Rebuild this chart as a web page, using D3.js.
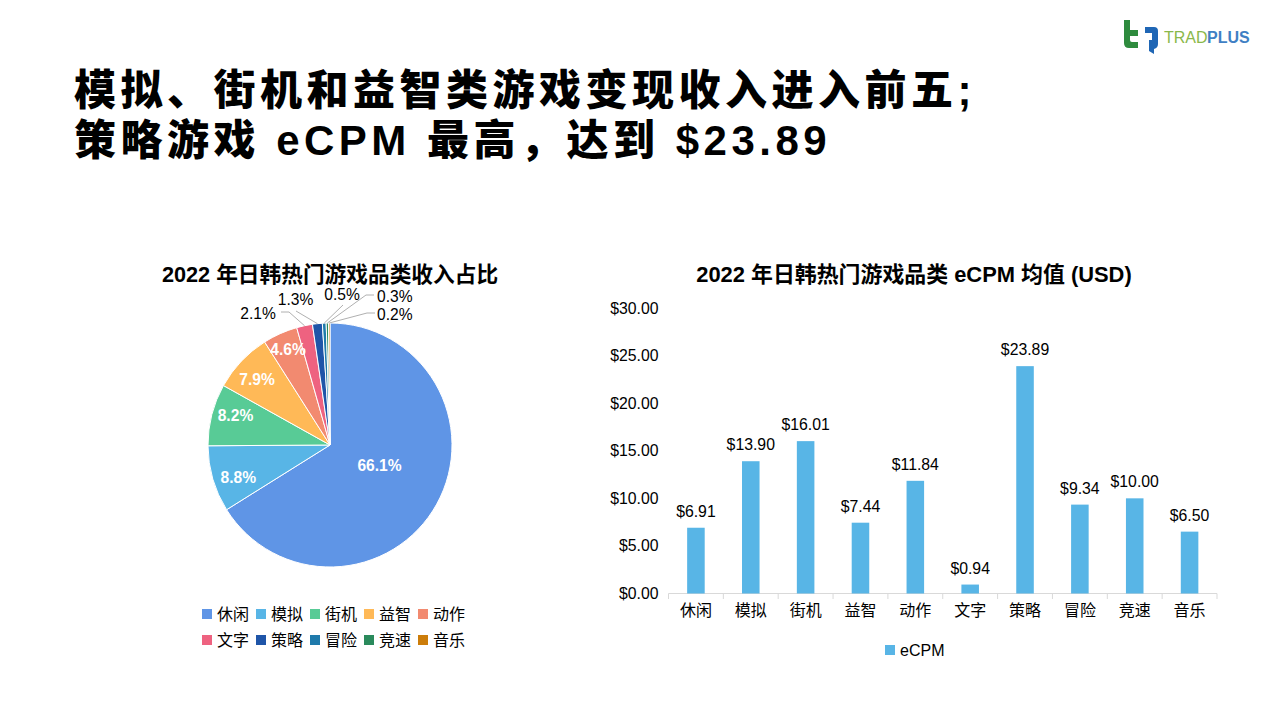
<!DOCTYPE html>
<html>
<head>
<meta charset="utf-8">
<script src="https://cdn.jsdelivr.net/npm/d3@7"></script>
<style>
  html, body { margin: 0; padding: 0; background: #fff; }
  text { font-family: "Liberation Sans", "Noto Sans CJK SC", sans-serif; fill: #000; }
</style>
</head>
<body>
<svg id="chart" width="1280" height="720"></svg>
<script>
const titleLines = ["模拟、街机和益智类游戏变现收入进入前五;", "策略游戏 eCPM 最高，达到 $23.89"];
const pieTitle = "2022 年日韩热门游戏品类收入占比";
const barTitle = "2022 年日韩热门游戏品类 eCPM 均值 (USD)";

const pieCategories = ["休闲", "模拟", "街机", "益智", "动作", "文字", "策略", "冒险", "竞速", "音乐"];
const pieShares = [66.1, 8.8, 8.2, 7.9, 4.6, 2.1, 1.3, 0.5, 0.3, 0.2];
const pieColors = ["#5f95e6", "#58b5e6", "#58cb96", "#ffb957", "#f28a70", "#ee6280", "#1f55a8", "#1f7aab", "#2a8a5c", "#cc7d0a"];

const barCategories = ["休闲", "模拟", "街机", "益智", "动作", "文字", "策略", "冒险", "竞速", "音乐"];
const ecpmValues = [6.91, 13.90, 16.01, 7.44, 11.84, 0.94, 23.89, 9.34, 10.00, 6.50];
const yTicks = [0, 5, 10, 15, 20, 25, 30];

const svg = d3.select("#chart");
const money = d3.format("$.2f");

// slide title
svg.append("g").selectAll("text").data(titleLines).enter().append("text")
  .attr("x", 74)
  .attr("y", (d, i) => 105 + i * 50)
  .attr("font-size", 42)
  .attr("font-weight", 900)
  .attr("letter-spacing", 4.5)
  .text(d => d);

// logo, top right
const logo = svg.append("g").attr("transform", "translate(1123,20)");
logo.append("path").attr("fill", "#2e8b3e")
  .attr("d", "M1 0h6v10h8v6h-8v4q0 2 2 2h6v6h-9q-5 0-5-5z");
logo.append("path").attr("fill", "#1f66b5")
  .attr("d", "M22 7h9q4 0 4 4v13q0 4-4 5v5l-5-3v-11h3v-7h-7z");
logo.append("text").attr("x", 41).attr("y", 23).attr("font-size", 16).style("fill", "#8ab84a").text("TRAD");
logo.append("text").attr("x", 84).attr("y", 23).attr("font-size", 16).attr("font-weight", 700)
  .style("fill", "#3f7fc4").text("PLUS");

// ---------- pie ----------
const pieCx = 330, pieCy = 445, pieR = 122;
svg.append("text").attr("x", 330).attr("y", 282).attr("text-anchor", "middle")
  .attr("font-size", 21.7).attr("font-weight", 700).text(pieTitle);

const pieGroup = svg.append("g").attr("transform", `translate(${pieCx},${pieCy})`);
const slices = d3.pie().sort(null)(pieShares);
const arc = d3.arc().innerRadius(0).outerRadius(pieR);

pieGroup.selectAll("path").data(slices).enter().append("path")
  .attr("d", arc)
  .attr("fill", (d, i) => pieColors[i])
  .attr("stroke", "#fff")
  .attr("stroke-width", 1);

// inside labels for the big slices, radius as a share of pie radius, then a nudge
const insideRadius = [0.52, 0.80, 0.80, 0.80, 0.80];
const insideNudge = [[-6, -10], [2, 5], [0, -5], [-2, 1], [-2, -7]];
pieGroup.selectAll("text.inside").data(slices.slice(0, 5)).enter().append("text")
  .attr("class", "inside")
  .attr("transform", (d, i) => {
    const a = (d.startAngle + d.endAngle) / 2, r = pieR * insideRadius[i];
    return `translate(${r * Math.sin(a) + insideNudge[i][0]},${-r * Math.cos(a) + insideNudge[i][1]})`;
  })
  .attr("text-anchor", "middle")
  .attr("dy", "0.36em")
  .attr("font-size", 15.6)
  .attr("font-weight", 700)
  .style("fill", "#fff")
  .text(d => d.value.toFixed(1) + "%");

// outside labels with leader lines for the small slices
const outsideSpots = [
  { x: 258, y: 314, lx: 281, ly: 312 },
  { x: 295.5, y: 300, lx: 296, ly: 311 },
  { x: 342, y: 295, lx: 343, ly: 305 },
  { x: 377, y: 297, lx: 374, ly: 295 },
  { x: 377, y: 315, lx: 375, ly: 313 }
];
const outside = svg.append("g");
slices.slice(5).forEach((d, i) => {
  const a = (d.startAngle + d.endAngle) / 2;
  const spot = outsideSpots[i];
  const ex = pieCx + pieR * Math.sin(a), ey = pieCy - pieR * Math.cos(a);
  const pts = i >= 3
    ? [[ex, ey], [spot.lx - 8, spot.ly], [spot.lx, spot.ly]]
    : i === 0
      ? [[ex, ey], [spot.lx + 8, spot.ly], [spot.lx, spot.ly]]
      : [[ex, ey], [spot.lx, spot.ly]];
  outside.append("path")
    .attr("d", d3.line()(pts))
    .attr("fill", "none").attr("stroke", "#b0b0b0").attr("stroke-width", 1);
  outside.append("text")
    .attr("x", spot.x).attr("y", spot.y + 5)
    .attr("text-anchor", i < 3 ? "middle" : "start")
    .attr("font-size", 15.6)
    .text(d.value.toFixed(1) + "%");
});

// pie legend, two rows of five
const legendCol = d3.scalePoint().domain(d3.range(5)).range([207, 423]);
const legendRow = d3.scalePoint().domain([0, 1]).range([614, 640]);
const pieLegend = svg.append("g").selectAll("g").data(pieCategories).enter().append("g")
  .attr("transform", (d, i) => `translate(${legendCol(i % 5)},${legendRow(Math.floor(i / 5))})`);
pieLegend.append("rect").attr("x", -5).attr("y", -5).attr("width", 10).attr("height", 10)
  .attr("fill", (d, i) => pieColors[i]);
pieLegend.append("text").attr("x", 10).attr("dy", "0.36em").attr("font-size", 16).text(d => d);

// ---------- bars ----------
svg.append("text").attr("x", 914).attr("y", 282).attr("text-anchor", "middle")
  .attr("font-size", 21.9).attr("font-weight", 700).text(barTitle);

const x = d3.scaleBand().domain(barCategories).range([668.5, 1217]).paddingInner(0.68).paddingOuter(0.34);
const xOuter = d3.scaleBand().domain(barCategories).range([668.5, 1217]);
const y = d3.scaleLinear().domain([0, 30]).range([593.5, 308]);

const yAxis = d3.axisLeft(y).tickValues(yTicks).tickFormat(money).tickSize(0).tickPadding(10);
svg.append("g").attr("transform", "translate(668.5,0)").call(yAxis)
  .call(g => g.select(".domain").remove())
  .call(g => g.selectAll("text").attr("font-size", 15.8).attr("font-family", null));

const xAxis = d3.axisBottom(xOuter).tickSize(0).tickPadding(11);
const xAxisG = svg.append("g").attr("transform", "translate(0,593.5)").call(xAxis);
xAxisG.select(".domain").attr("stroke", "#d9d9d9").attr("d", "M668.5,0H1217");
xAxisG.selectAll("text").attr("font-size", 16).attr("font-family", null);
svg.append("g").selectAll("line").data(d3.range(11)).enter().append("line")
  .attr("x1", d => 668.5 + d * xOuter.step()).attr("x2", d => 668.5 + d * xOuter.step())
  .attr("y1", 593.5).attr("y2", 599).attr("stroke", "#d9d9d9");

svg.append("g").selectAll("rect").data(ecpmValues).enter().append("rect")
  .attr("x", (d, i) => x(barCategories[i]))
  .attr("y", d => y(d))
  .attr("width", x.bandwidth())
  .attr("height", d => y(0) - y(d))
  .attr("fill", "#58b5e6");

svg.append("g").selectAll("text").data(ecpmValues).enter().append("text")
  .attr("x", (d, i) => x(barCategories[i]) + x.bandwidth() / 2)
  .attr("y", d => y(d) - 11)
  .attr("text-anchor", "middle")
  .attr("font-size", 15.8)
  .text(d => money(d));

// bar legend
svg.append("rect").attr("x", 885).attr("y", 645).attr("width", 10).attr("height", 10).attr("fill", "#58b5e6");
svg.append("text").attr("x", 900).attr("y", 650).attr("dy", "0.36em").attr("font-size", 16).text("eCPM");
</script>
</body>
</html>
